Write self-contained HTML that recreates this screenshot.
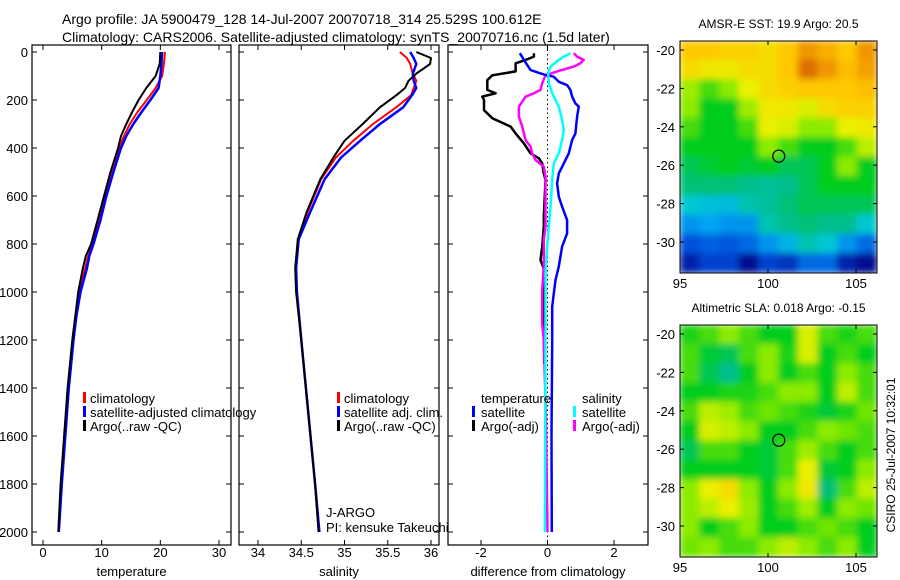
<!DOCTYPE html>
<html><head><meta charset="utf-8"><style>
body{margin:0;background:#fff}
svg{display:block;font-family:"Liberation Sans",sans-serif}
text{fill:#000}
</style></head><body>
<svg id="fig" width="900" height="580" viewBox="0 0 900 580" xmlns="http://www.w3.org/2000/svg">
<defs>
<filter id="blur" x="0" y="0" width="1" height="1"><feGaussianBlur stdDeviation="3.5" edgeMode="duplicate"/></filter>
<clipPath id="c1"><rect x="680" y="41" width="197" height="232"/></clipPath>
<clipPath id="c2"><rect x="680" y="325" width="197" height="232"/></clipPath>
</defs>
<text x="62" y="24" font-size="14">Argo profile: JA 5900479_128 14-Jul-2007 20070718_314 25.529S 100.612E</text>
<text x="62" y="42" font-size="14">Climatology: CARS2006. Satellite-adjusted climatology: synTS_20070716.nc (1.5d later)</text>
<g id="g"></g>
</svg>
<script>
// ---------- data ----------
const tempDepth=[0,50,100,150,200,250,300,350,400,500,600,700,800,850,900,1000,1100,1200,1400,1600,1800,2000];
const tempArgo=[20.0,19.9,19.2,17.6,16.3,15.2,14.2,13.3,12.8,11.5,10.4,9.3,8.2,7.3,6.8,6.0,5.5,5.0,4.2,3.6,3.0,2.6];
const tempClim=[20.8,20.6,20.3,19.2,17.7,16.1,14.8,13.8,13.0,11.6,10.5,9.5,8.4,7.7,7.2,6.2,5.6,5.1,4.3,3.7,3.1,2.7];
const tempSat=[20.3,20.2,20.0,19.7,18.3,16.8,15.4,14.2,13.3,12.0,10.8,9.8,8.6,7.9,7.5,6.4,5.7,5.2,4.4,3.8,3.2,2.7];
const salDepth=[0,25,50,90,120,150,180,230,300,370,440,530,670,780,900,1000,1200,1500,1800,2000];
const salArgo=[35.83,36.0,35.99,35.83,35.74,35.70,35.6,35.41,35.21,35.0,34.87,34.72,34.56,34.46,34.43,34.44,34.5,34.58,34.66,34.7];
const salClim=[35.64,35.72,35.76,35.79,35.83,35.80,35.77,35.6,35.33,35.1,34.9,34.73,34.57,34.47,34.44,34.45,34.5,34.58,34.66,34.7];
const salSat=[35.76,35.8,35.83,35.79,35.8,35.83,35.78,35.68,35.41,35.18,34.96,34.77,34.6,34.47,34.44,34.45,34.5,34.58,34.66,34.71];
const dTArgoDepth=[5,19,33,47,81,89,97,117,158,172,186,200,242,276,311,339,381,422,443,464,506,533,686,728,811,867,922,1006,1131,1300];
const dTArgo=[-0.41,-0.41,-0.66,-0.96,-0.96,-1.31,-1.66,-1.81,-1.81,-1.56,-1.96,-1.91,-1.91,-1.66,-1.11,-0.96,-0.71,-0.51,-0.26,-0.16,-0.11,-0.06,-0.11,-0.11,-0.16,-0.21,-0.06,-0.11,-0.11,-0.1];
const dTSatDepth=[5,33,75,89,97,103,124,138,158,186,214,228,269,339,367,422,464,506,547,603,644,700,756,811,894,950,1006,1061,1131,1200,1600,2000];
const dTSat=[-0.83,-0.71,-0.51,-0.21,-0.01,0.19,0.34,0.59,0.69,0.74,0.84,0.94,0.89,0.84,0.74,0.64,0.49,0.34,0.29,0.34,0.44,0.59,0.59,0.44,0.34,0.24,0.19,0.14,0.14,0.14,0.12,0.13];
const dSSatDepth=[5,19,33,61,89,130,172,228,283,325,367,422,464,533,644,728,811,922,1061,1200,1600,2000];
const dSSat=[0.69,0.49,0.34,0.09,0.02,0.04,0.14,0.34,0.44,0.49,0.44,0.34,0.19,0.14,0.09,0.04,-0.01,-0.06,-0.06,-0.06,-0.07,-0.08];
const dSArgoDepth=[5,19,33,47,61,81,97,130,158,172,186,228,269,311,339,367,394,422,450,478,519,575,644,728,783,894,992,1131,1200,1500,2000];
const dSArgo=[0.79,0.89,1.09,0.99,0.79,0.29,-0.06,-0.16,-0.21,-0.41,-0.66,-0.86,-0.86,-0.76,-0.71,-0.66,-0.51,-0.46,-0.36,-0.11,-0.06,-0.06,-0.06,-0.06,-0.11,-0.11,-0.16,-0.16,-0.11,-0.05,0.0];
const depthTicks=[0,200,400,600,800,1000,1200,1400,1600,1800,2000];
const tempTicks=[0,10,20,30];
const salTicks=[34,34.5,35,35.5,36];
const diffTicks=[-2,0,2];
const lonTicks=[95,100,105];
const latTicks=[-20,-22,-24,-26,-28,-30];
const argoLon=100.612, argoLat=-25.529;
const sstGrid=[
[0.8,0.8,0.78,0.78,0.75,0.8,0.9,0.85,0.8,0.9],
[0.75,0.72,0.72,0.75,0.75,0.8,0.95,0.9,0.82,0.88],
[0.62,0.55,0.6,0.7,0.75,0.78,0.8,0.8,0.8,0.82],
[0.6,0.5,0.5,0.62,0.72,0.72,0.68,0.75,0.78,0.78],
[0.55,0.5,0.5,0.55,0.7,0.68,0.6,0.6,0.7,0.72],
[0.5,0.5,0.5,0.5,0.6,0.55,0.5,0.5,0.55,0.65],
[0.45,0.48,0.5,0.48,0.5,0.45,0.45,0.5,0.6,0.5],
[0.42,0.42,0.42,0.4,0.38,0.4,0.45,0.5,0.5,0.5],
[0.3,0.28,0.27,0.35,0.38,0.42,0.45,0.45,0.45,0.45],
[0.2,0.22,0.2,0.2,0.35,0.4,0.42,0.4,0.4,0.3],
[0.12,0.14,0.13,0.15,0.2,0.25,0.35,0.3,0.2,0.15],
[0.05,0.1,0.1,0.02,0.1,0.08,0.15,0.15,0.05,0.02]];
const slaGrid=[
[0.52,0.55,0.6,0.55,0.5,0.5,0.68,0.55,0.52,0.55],
[0.55,0.48,0.45,0.55,0.6,0.52,0.68,0.5,0.55,0.5],
[0.55,0.45,0.4,0.5,0.6,0.5,0.55,0.5,0.6,0.55],
[0.5,0.5,0.52,0.52,0.55,0.6,0.6,0.5,0.65,0.55],
[0.55,0.65,0.62,0.55,0.58,0.55,0.52,0.48,0.52,0.58],
[0.5,0.68,0.65,0.6,0.5,0.5,0.55,0.6,0.58,0.55],
[0.45,0.55,0.55,0.5,0.48,0.55,0.62,0.55,0.5,0.55],
[0.5,0.5,0.5,0.5,0.48,0.55,0.7,0.48,0.5,0.6],
[0.6,0.7,0.75,0.6,0.5,0.6,0.72,0.42,0.55,0.65],
[0.6,0.65,0.7,0.62,0.5,0.55,0.62,0.5,0.6,0.58],
[0.6,0.5,0.55,0.6,0.5,0.5,0.55,0.58,0.55,0.5],
[0.58,0.6,0.55,0.55,0.6,0.65,0.6,0.55,0.6,0.5]];

// ---------- helpers ----------
const NS="http://www.w3.org/2000/svg";
const G=document.getElementById('g');
function mk(tag,attrs,parent){const e=document.createElementNS(NS,tag);for(const k in attrs)e.setAttribute(k,attrs[k]);(parent||G).appendChild(e);return e;}
const yD=d=>52+d*0.24;
const panels=[
 {x0:32,x1:231,v0:43,v1:219,a:0,b:30,ticks:tempTicks,label:'temperature',name:'temperature-panel'},
 {x0:239,x1:439,v0:258,v1:431,a:34,b:36,ticks:salTicks,label:'salinity',name:'salinity-panel'},
 {x0:448,x1:648,v0:481,v1:614,a:-2,b:2,ticks:diffTicks,label:'difference from climatology',name:'difference-panel'}];
panels.forEach((p,i)=>{p.sx=v=>p.v0+(v-p.a)*(p.v1-p.v0)/(p.b-p.a);
 const r=mk('rect',{x:p.x0,y:45,width:p.x1-p.x0,height:500,fill:'none',stroke:'#000','stroke-width':1.2});
 
 
 p.ticks.forEach(t=>{const x=p.sx(t);
  mk('line',{x1:x,x2:x,y1:545,y2:540,stroke:'#000'});mk('line',{x1:x,x2:x,y1:45,y2:50,stroke:'#000'});
  const tx=mk('text',{x:x,y:557,'font-size':13,'text-anchor':'middle'});tx.textContent=t;
  
  });
 depthTicks.forEach(d=>{const y=yD(d);
  mk('line',{x1:p.x0,x2:p.x0+5,y1:y,y2:y,stroke:'#000'});mk('line',{x1:p.x1,x2:p.x1-5,y1:y,y2:y,stroke:'#000'});
  if(i===0){const tx=mk('text',{x:28,y:y+5,'font-size':13,'text-anchor':'end'});tx.textContent=d;
   
   }});
 const xl=mk('text',{x:(p.x0+p.x1)/2,y:576,'font-size':13,'text-anchor':'middle'});xl.textContent=p.label;
 
 
});
const zl=mk('line',{x1:panels[2].sx(0),x2:panels[2].sx(0),y1:45,y2:545,stroke:'#000','stroke-dasharray':'1.5,3'});


function line(p,vals,depths,color,w,name){
 const pts=vals.map((v,i)=>p.sx(v).toFixed(1)+','+yD(depths[i]).toFixed(1)).join(' ');
 const e=mk('polyline',{points:pts,fill:'none',stroke:color,'stroke-width':w,'stroke-linejoin':'round'});
 
 }
line(panels[0],tempClim,tempDepth,'#f00',2,'temp-climatology-line');
line(panels[0],tempSat,tempDepth,'#00f',2.5,'temp-satellite-line');
line(panels[0],tempArgo,tempDepth,'#000',2,'temp-argo-line');
line(panels[1],salClim,salDepth,'#f00',2,'sal-climatology-line');
line(panels[1],salSat,salDepth,'#00f',2.5,'sal-satellite-line');
line(panels[1],salArgo,salDepth,'#000',2,'sal-argo-line');
line(panels[2],dTArgo,dTArgoDepth,'#000',2.5,'temp-argo-diff-line');
line(panels[2],dSArgo,dSArgoDepth,'#f0f',2.5,'sal-argo-diff-line');
line(panels[2],dTSat,dTSatDepth,'#00f',2.5,'temp-satellite-diff-line');
line(panels[2],dSSat,dSSatDepth,'#0ff',2.5,'sal-satellite-diff-line');
function leg(mx,tx,y,color,label,name){
 if(color){const m=mk('rect',{x:mx,y:y-11,width:3,height:11,fill:color});
  
  }
 const t=mk('text',{x:tx,y:y,'font-size':13});t.textContent=label;
 
 }
leg(83,90,403,'#f00','climatology','legend-climatology');
leg(83,90,417,'#00f','satellite-adjusted climatology','legend-satellite-adjusted');
leg(83,90,431,'#000','Argo(..raw -QC)','legend-argo');
leg(337,344,403,'#f00','climatology','legend-sal-climatology');
leg(337,344,417,'#00f','satellite adj. clim.','legend-sal-satellite');
leg(337,344,431,'#000','Argo(..raw -QC)','legend-sal-argo');
leg(0,481,403,null,'temperature','legend-temperature-heading');
leg(472,481,417,'#00f','satellite','legend-temp-satellite');
leg(472,481,431,'#000','Argo(-adj)','legend-temp-argo');
leg(0,582,403,null,'salinity','legend-salinity-heading');
leg(573,582,417,'#0ff','satellite','legend-sal-satellite-diff');
leg(573,582,431,'#f0f','Argo(-adj)','legend-sal-argo-diff');
leg(0,326,517,null,'J-ARGO','program-label');
leg(0,326,532,null,'PI: kensuke Takeuchi','pi-label');
const stops=[[0,[0,0,130]],[0.12,[0,80,220]],[0.22,[0,165,240]],[0.3,[0,200,210]],[0.4,[0,190,140]],[0.5,[0,205,30]],[0.6,[140,235,0]],[0.7,[235,240,0]],[0.8,[255,200,0]],[0.9,[240,150,0]],[1,[200,70,0]]];
function cmap(v){for(let i=1;i<stops.length;i++){if(v<=stops[i][0]){const [a,ca]=stops[i-1],[b,cb]=stops[i];const f=(v-a)/(b-a);return 'rgb('+ca.map((c,k)=>Math.round(c+(cb[k]-c)*f)).join(',')+')';}}return 'rgb(200,70,0)';}
function map(grid,top,clip,title,name){
 const x0=680,w=197,h=232;
 const lonX=l=>680+(l-95)*17.6, latY=la=>top+9+(-20-la)*19.2;
 const g=mk('g',{'clip-path':'url(#'+clip+')'});
 const gg=mk('g',{filter:'url(#blur)'},g);
 const rows=grid.length,cols=grid[0].length,cw=w/cols,ch=h/rows;
 grid.forEach((r,i)=>r.forEach((v,j)=>{const c=mk('rect',{x:x0+j*cw-0.5,y:top+i*ch-0.5,width:cw+1,height:ch+1,fill:cmap(v)},gg);
  
  }));
 const fr=mk('rect',{x:x0,y:top,width:w,height:h,fill:'none',stroke:'#000'});
 
 
 lonTicks.forEach(l=>{const x=lonX(l);mk('line',{x1:x,x2:x,y1:top+h,y2:top+h-4,stroke:'#000'});mk('line',{x1:x,x2:x,y1:top,y2:top+4,stroke:'#000'});
  const t=mk('text',{x:x,y:top+h+15,'font-size':13,'text-anchor':'middle'});t.textContent=l;
  
  });
 latTicks.forEach(la=>{const y=latY(la);mk('line',{x1:x0,x2:x0+4,y1:y,y2:y,stroke:'#000'});mk('line',{x1:x0+w,x2:x0+w-4,y1:y,y2:y,stroke:'#000'});
  const t=mk('text',{x:675,y:y+5,'font-size':13,'text-anchor':'end'});t.textContent=la;
  
  });
 const c=mk('circle',{cx:lonX(argoLon),cy:latY(argoLat),r:6,fill:'none',stroke:'#000','stroke-width':1.2});
 
 
 const t=mk('text',{x:x0+w/2,y:top-13,'font-size':12,'text-anchor':'middle'});t.textContent=title;
 
 
}
map(sstGrid,41,'c1','AMSR-E SST: 19.9 Argo: 20.5','sst-map');
map(slaGrid,325,'c2','Altimetric SLA: 0.018 Argo: -0.15','sla-map');
const st=mk('text',{x:0,y:0,'font-size':12,'text-anchor':'middle',transform:'translate(895,455) rotate(-90)'});
st.textContent='CSIRO 25-Jul-2007 10:32:01';


</script>
</body></html>
